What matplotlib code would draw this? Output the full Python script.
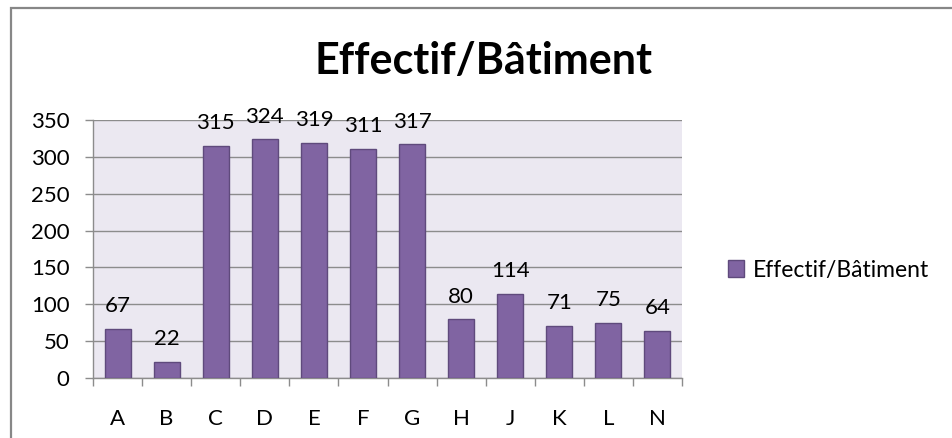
import numpy as np
import matplotlib.pyplot as plt
from matplotlib.patches import Rectangle

# données
batiments = ['A', 'B', 'C', 'D', 'E', 'F', 'G', 'H', 'J', 'K', 'L', 'N']
effectifs = [67, 22, 315, 324, 319, 311, 317, 80, 114, 71, 75, 64]
serie = 'Effectif/Bâtiment'
y_ticks = [0, 50, 100, 150, 200, 250, 300, 350]

plt.rcParams['font.family'] = ['Lato', 'DejaVu Sans']

fig = plt.figure(figsize=(9.52, 4.38), dpi=100)
# cadre du graphique (dépasse à droite et en bas)
fig.patches.append(Rectangle((11 / 952, -0.1), 1.0, 1 - 8 / 438 + 0.1,
                             transform=fig.transFigure, fill=False,
                             edgecolor='#878787', linewidth=1.6))

ax = fig.add_axes([93 / 952, 1 - 378 / 438, (682 - 93) / 952, (378 - 120) / 438])
ax.set_facecolor('#ebe8f1')

x = np.arange(len(batiments))
ax.bar(x, effectifs, width=0.53, color='#8064a2', edgecolor='#5f4a7c',
       linewidth=1.0, label=serie, zorder=3)

for xi, v in zip(x, effectifs):
    ax.annotate(str(v), (xi, v), xytext=(0, 9), textcoords='offset points',
                ha='center', va='bottom', fontsize=16, clip_on=False, zorder=4)

ax.set_xlim(-0.5, len(batiments) - 0.5)
ax.set_ylim(0, 350)
ax.set_yticks(y_ticks)
ax.yaxis.grid(True, color='#8c8c8c', linewidth=1.0, zorder=0)
ax.set_xticks(x)
ax.set_xticklabels(batiments)
ax.set_xticks(np.arange(-0.5, len(batiments)), minor=True)
ax.tick_params(axis='x', which='major', length=0, pad=22, labelsize=16)
ax.tick_params(axis='x', which='minor', length=6, color='#8c8c8c', width=1.0)
ax.tick_params(axis='y', length=6, color='#8c8c8c', width=1.0, labelsize=16, pad=11)

for side in ['top', 'right']:
    ax.spines[side].set_visible(False)
for side in ['left', 'bottom']:
    ax.spines[side].set_color('#8c8c8c')
    ax.spines[side].set_linewidth(1.0)

fig.text(483 / 952, 1 - 61 / 438, 'Effectif/Bâtiment', ha='center', va='center',
         fontsize=31, fontweight='bold')

ax.legend(loc='center left', bbox_to_anchor=(707 / 952, 1 - 270 / 438),
          bbox_transform=fig.transFigure, frameon=False, fontsize=16.5,
          handlelength=0.7, handleheight=0.7, handletextpad=0.4)

fig.savefig('out.png', dpi=100)
